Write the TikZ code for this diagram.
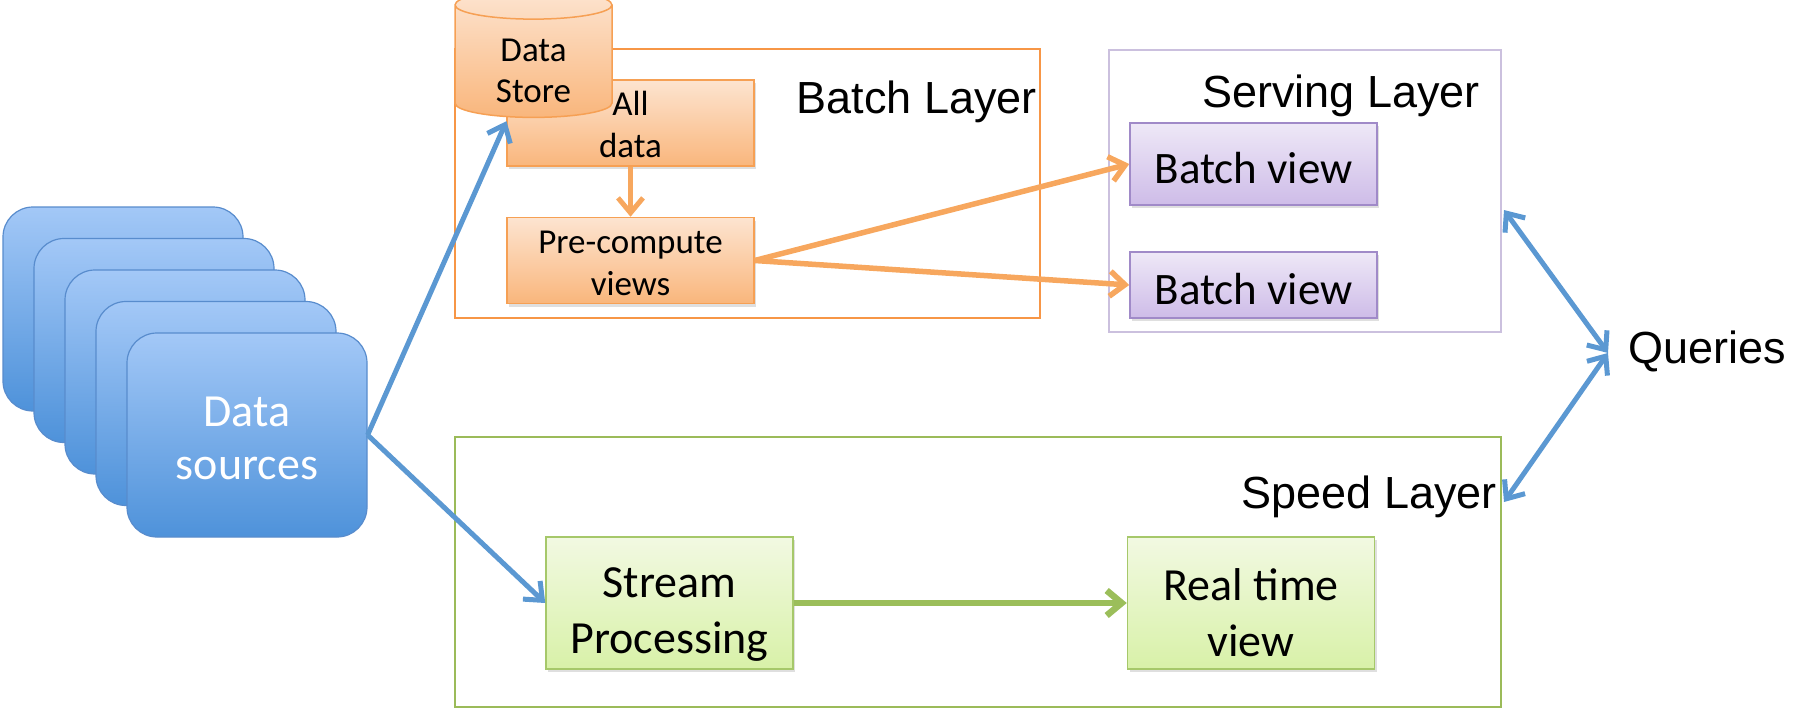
\documentclass[tikz,border=0pt]{standalone}
\usepackage{fontspec}
\setmainfont{Carlito}
\newfontfamily\helv{Liberation Sans}
\usetikzlibrary{positioning,shapes.geometric,arrows.meta,shadows}
\definecolor{srctop}{RGB}{163,200,247}
\definecolor{srcbot}{RGB}{78,146,218}
\definecolor{srcline}{RGB}{88,140,205}
\definecolor{otop}{RGB}{253,228,208}
\definecolor{obot}{RGB}{249,182,124}
\definecolor{oline}{RGB}{246,160,84}
\definecolor{ptop}{RGB}{238,232,247}
\definecolor{pbot}{RGB}{206,188,232}
\definecolor{pline}{RGB}{160,138,200}
\definecolor{gtop}{RGB}{242,249,226}
\definecolor{gbot}{RGB}{216,241,168}
\definecolor{gline}{RGB}{166,200,106}
\definecolor{batchc}{RGB}{247,150,70}
\definecolor{servc}{RGB}{203,192,222}
\definecolor{speedc}{RGB}{155,187,89}
\definecolor{bluearr}{RGB}{91,152,210}
\definecolor{orarr}{RGB}{247,167,94}
\definecolor{grarr}{RGB}{155,190,90}

\begin{document}
\begin{tikzpicture}[x=1pt,y=-1pt,
        layer/.style={draw,line width=2pt,minimum width=#1,inner sep=0pt},
        src/.style={draw=srcline,line width=1.2pt,rounded corners=30pt,top color=srctop,bottom color=srcbot,
            minimum width=240pt,minimum height=204pt,align=center,text=white,font=\fontsize{46}{53}\selectfont},
        obox/.style={draw=oline,line width=1.5pt,top color=otop,bottom color=obot,minimum width=247pt,minimum height=86pt,
            inner sep=0pt,align=center,font=\fontsize{35}{42}\selectfont,drop shadow={shadow xshift=2pt,shadow yshift=-3pt,opacity=.25}},
        pbox/.style={draw=pline,line width=1.5pt,top color=ptop,bottom color=pbot,minimum width=247pt,
            inner sep=0pt,font=\fontsize{45}{54}\selectfont,drop shadow={shadow xshift=2pt,shadow yshift=-3pt,opacity=.25}},
        gbox/.style={draw=gline,line width=1.5pt,top color=gtop,bottom color=gbot,minimum width=247pt,minimum height=132pt,
            inner sep=0pt,align=center,font=\fontsize{46}{56}\selectfont,drop shadow={shadow xshift=2pt,shadow yshift=-3pt,opacity=.25}},
        store/.style={cylinder,shape border rotate=90,aspect=0.38,draw=oline,line width=1.5pt,top color=otop,bottom color=obot,
            minimum width=157pt,minimum height=117pt,inner sep=0pt,align=center,font=\fontsize{35}{41}\selectfont},
        lbl/.style={anchor=base east,inner sep=0pt,font=\helv\fontsize{45}{54}\selectfont},
        barb/.style={-{Straight Barb[length=15pt,width=25pt]}},
        dbarb/.style={{Straight Barb[length=15pt,width=25pt]}-{Straight Barb[length=15pt,width=25pt]}},
    ]
    \useasboundingbox (0,0) rectangle (1794,710);

    \node[layer=585pt,draw=batchc,minimum height=269pt] (batch) at (747.5,183.5) {};
    \node[layer=392pt,draw=servc,minimum height=282pt] (serv) at (1305,191) {};
    \node[layer=1046pt,draw=speedc,minimum height=270pt] (speed) at (978,572) {};
    \node[lbl] (bl) at (1037,113) {Batch Layer};
    \node[lbl] (sl) at (1480,107) {Serving Layer};
    \node[lbl] (pl) at (1497,508) {Speed Layer};

    \foreach \i in {4,3,2,1}
        \node[src] at (247-31*\i,435-31.5*\i) {};
    \node[src] (ds) at (247,435) {\rule{0pt}{36pt}Data\\sources};

    \node[obox] (all) at (630.5,123) {\rule{0pt}{28pt}All\\data};
    \node[obox,below=50pt of all] (pre) {\rule{0pt}{28pt}Pre-compute\\views};
    \node[store] (st) at (533.5,61.5) {\rule{0pt}{42pt}Data\\Store};

    \node[pbox,minimum height=82pt] (bv1) at (1253.5,164) {\rule{0pt}{40pt}Batch view};
    \node[pbox,minimum height=66pt] (bv2) at (1253.5,285) {\rule{0pt}{40pt}Batch view};

    \node[gbox] (sp) at (669.5,603) {\rule{0pt}{52pt}Stream\\Processing};
    \node[gbox,right=333pt of sp] (rt) {\rule{0pt}{52pt}Real time\\view};

    \node[anchor=base west,inner sep=0pt,font=\helv\fontsize{45}{54}\selectfont] (q) at (1628,363) {Queries};

    \draw[barb,bluearr,line width=5pt] (ds.east) -- ([xshift=-27pt,yshift=-3pt]st.south);
    \draw[barb,bluearr,line width=5pt] (ds.east) -- (sp.west);
    \draw[barb,orarr,line width=5pt] (all) -- (pre);
    \draw[barb,orarr,line width=5.5pt] (pre.east) -- (bv1.west);
    \draw[barb,orarr,line width=5.5pt] (pre.east) -- (bv2.west);
    \draw[barb,grarr,line width=6.5pt] (sp) -- (rt);
    \draw[dbarb,bluearr,line width=5pt] ([yshift=-19pt,xshift=2pt]serv.east) -- ([xshift=-20pt,yshift=-2pt]q.west);
    \draw[dbarb,bluearr,line width=5pt] ([xshift=-20pt,yshift=-2pt]q.west) -- ([yshift=70pt,xshift=2pt]speed.east);
\end{tikzpicture}
\end{document}
